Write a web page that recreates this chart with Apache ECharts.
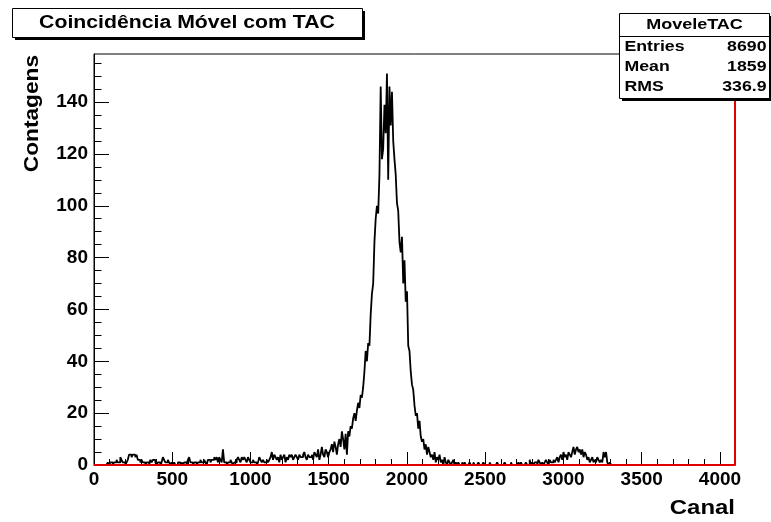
<!DOCTYPE html>
<html>
<head>
<meta charset="utf-8">
<script src="https://cdn.jsdelivr.net/npm/echarts@6/dist/echarts.min.js"></script>
<style>
  html, body { margin: 0; padding: 0; background: #fff; }
  #chart { width: 771px; height: 522px; }
</style>
</head>
<body>
<div id="chart"></div>
<script>
// Channel width of each histogram bin
const BIN_WIDTH = 8;
const CHANNEL_MAX = 4096;

// Counts per bin, split by region of the TAC spectrum
const countsLow = [
  0,0,0,0,0,0,0,0,0,0,0,
  1,0,1,1,0,1,1,2,1,1,
  3,2,1,
  1,0,1,2,
  4,4,3,4,4,3,4,2,
  2,1,2,1,
  1,0,1,1,0,
  2,1,2,2,1,0,
  1,1,0,1,
  3,2,1,
  1,2,1,0,1,
  0,1,0,0,1,1,0,1,0,1,1,0,
  2,3,1,
  1,0,1,1,0,1,1,
  2,1,1,2,1,0,
  2,2,1,2,2,
  3,2,3,1,3,2,1,
  6,
  1,1,0,1,1,2,1,0,1,1,
  2,3,2,1,3,2,3,2,1,3,2,1
];
const countsRise = [
  1,2,1,1,0,1,3,2,1,2,1,1,2,1,2,
  3,5,2,4,3,2,
  3,1,4,2,3,4,1,3,2,4,
  3,4,2,3,4,3,2,4,3,3,
  4,5,3,2,4,3,
  3,4,2,5,4,3,6,2,4,7,4,3,6,5,3,5,
  6,8,5,9,7,4,8,10,7,
  13,10,6,12,4,13,11,15,
  14,18,20,17,21,
  24,22,27,26,
  30
];
const countsPeak = [
  36,44,40,47,46,
  58,66,70,
  86,95,
  100,97,112,
  146,118,122,
  139,128,
  151,110,
  146,131,144,125,118,112,101,98,86,82,88,70,79,63,67,46,44,36,31,29,23,19,20,14,17,11,9,10,6,8,4,7,5,3
];
const countsFall = [
  4,2,5,1,3,2,4,
  1,2,0,3,1,0,2,1,0,1,2,0,1,0,
  1,0,0,1,0,1,0,0,0,1,
  0,0,1,0,0,0,1,0,0,0,
  1,0,0,0,0,1,0,0,0,0,
  0,1,0,0,0,0,0,1,0,0,
  0,0,1,0,0,0,0,0,1,0,
  1,0,0,0,1,0,0,2,0
];
const countsHigh = [
  1,0,1,1,0,2,1,0,1,0,1,2,1,0,2,1,1,2,1,
  2,3,1,
  3,4,2,5,3,4,2,5,4,3,
  5,7,4,6,7,5,6,
  4,6,3,5,4,
  2,3,1,2,3,1,2,1,3,2,1,2,1,
  5,3,5,
  1,0,1,0
];

// Red reference trace: flat at zero, rising at the last channel
const redChannels = [0, CHANNEL_MAX, CHANNEL_MAX];
const redLevels = [0, 0, 1000];

// Axis tick labels
const xTickLabels = [0, 500, 1000, 1500, 2000, 2500, 3000, 3500, 4000];
const yTickLabels = [0, 20, 40, 60, 80, 100, 120, 140];

// Statistics box
const statsTitle = 'MoveleTAC';
const statsRows = [['Entries', '8690'], ['Mean', '1859'], ['RMS', '336.9']];

const counts = [].concat(countsLow, countsRise, countsPeak, countsFall, countsHigh);
const histPoints = counts.map((v, i) => [i * BIN_WIDTH, v]);
histPoints.push([counts.length * BIN_WIDTH, counts[counts.length - 1]]);
const redPoints = redChannels.map((c, i) => [c, redLevels[i]]);

const yMax = Math.max.apply(null, counts) * 1.05;

const xMinor = [];
for (let c = 100; c < CHANNEL_MAX; c += 100) if (c % 500 !== 0) xMinor.push(c);
const yMinor = [];
for (let v = 5; v < yMax; v += 5) if (v % 20 !== 0) yMinor.push(v);

const FONT = '"Liberation Sans", Arial, Helvetica, sans-serif';
const labelStyle = { fontFamily: FONT, fontWeight: 'bold', fontSize: 19, color: '#000', formatter: v => String(v) };

function boldText(x, y, text, size, align, extra) {
  return Object.assign({
    type: 'text', x: x, y: y, z: 102,
    style: { text: text, fontFamily: FONT, fontWeight: 'bold', fontSize: size, fill: '#000', align: align, verticalAlign: 'middle' }
  }, extra || {});
}

const chart = echarts.init(document.getElementById('chart'), null, { renderer: 'canvas' });

const BOX_L = 619.5, BOX_T = 13.5, BOX_W = 150, BOX_H = 85;
const WIDE = 1.18;

const graphics = [
  // title box with drop shadow
  { type: 'rect', shape: { x: 15, y: 11, width: 350, height: 29 }, style: { fill: '#000' }, z: 100 },
  { type: 'rect', shape: { x: 12.5, y: 8.5, width: 350, height: 29 }, style: { fill: '#fff', stroke: '#000', lineWidth: 1 }, z: 101 },
  boldText(187, 23, 'Coincidência Móvel com TAC', 18, 'center', { scaleX: WIDE }),
  // statistics box with drop shadow
  { type: 'rect', shape: { x: BOX_L + 2.5, y: BOX_T + 2.5, width: BOX_W, height: BOX_H }, style: { fill: '#000' }, z: 100 },
  { type: 'rect', shape: { x: BOX_L, y: BOX_T, width: BOX_W, height: BOX_H }, style: { fill: '#fff', stroke: '#000', lineWidth: 1 }, z: 101 },
  { type: 'line', shape: { x1: BOX_L, y1: 36.5, x2: BOX_L + BOX_W, y2: 36.5 }, style: { stroke: '#000', lineWidth: 1 }, z: 102 },
  boldText(BOX_L + BOX_W / 2, 25, statsTitle, 15, 'center', { scaleX: 1.2 }),
  // axis titles
  boldText(32, 55, 'Contagens', 21, 'right', { rotation: Math.PI / 2, scaleX: 1.08 }),
  boldText(735, 508, 'Canal', 21, 'right', { scaleX: 1.14 })
];
statsRows.forEach((row, i) => {
  const y = 47 + i * 20;
  graphics.push(boldText(BOX_L + 5, y, row[0], 15, 'left', { scaleX: WIDE }));
  graphics.push(boldText(BOX_L + BOX_W - 3, y, row[1], 15, 'right', { scaleX: WIDE }));
});

const option = {
  animation: false,
  backgroundColor: '#fff',
  grid: { left: 94, right: 36, top: 54, bottom: 57, show: true, borderColor: '#000', borderWidth: 1, backgroundColor: '#fff' },
  xAxis: [
    {
      type: 'value', min: 0, max: CHANNEL_MAX, position: 'bottom',
      axisLine: { show: true, lineStyle: { color: '#000', width: 1 } },
      axisTick: { show: true, inside: true, length: 13, customValues: xTickLabels, lineStyle: { color: '#000' } },
      axisLabel: Object.assign({ customValues: xTickLabels, margin: 5 }, labelStyle),
      splitLine: { show: false }
    },
    {
      type: 'value', min: 0, max: CHANNEL_MAX, position: 'bottom',
      axisLine: { show: false },
      axisTick: { show: true, inside: true, length: 6, customValues: xMinor, lineStyle: { color: '#000' } },
      axisLabel: { show: false },
      splitLine: { show: false }
    }
  ],
  yAxis: [
    {
      type: 'value', min: 0, max: yMax, position: 'left',
      axisLine: { show: true, lineStyle: { color: '#000', width: 1 } },
      axisTick: { show: true, inside: true, length: 15, customValues: yTickLabels, lineStyle: { color: '#000' } },
      axisLabel: Object.assign({ customValues: yTickLabels, margin: 6 }, labelStyle),
      splitLine: { show: false }
    },
    {
      type: 'value', min: 0, max: yMax, position: 'left',
      axisLine: { show: false },
      axisTick: { show: true, inside: true, length: 7.5, customValues: yMinor, lineStyle: { color: '#000' } },
      axisLabel: { show: false },
      splitLine: { show: false }
    }
  ],
  series: [
    {
      name: 'MoveleTAC', type: 'line', xAxisIndex: 0, yAxisIndex: 0,
      data: histPoints, step: 'end', symbol: 'none', silent: true,
      lineStyle: { color: '#000', width: 1.8 }, z: 3
    },
    {
      name: 'ref', type: 'line', xAxisIndex: 0, yAxisIndex: 0,
      data: redPoints, symbol: 'none', silent: true, clip: true,
      lineStyle: { color: '#e00000', width: 2 }, z: 4
    }
  ],
  graphic: graphics
};

chart.setOption(option);
</script>
</body>
</html>
